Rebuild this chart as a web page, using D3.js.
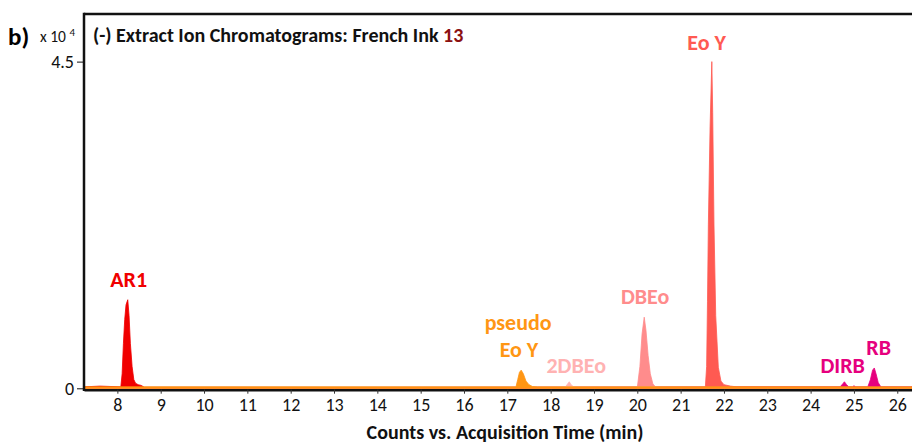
<script src="https://cdnjs.cloudflare.com/ajax/libs/d3/7.8.5/d3.min.js"></script>

<style>
  body { margin: 0; background: #fff; }
  svg text { font-family: Carlito, Lato, sans-serif; }
</style>

<body>
  <div id="vis"></div>
</body>

<script>
  // x axis ticks (min) and y ticks (x 10^4 counts)
  const xTicks = [8, 9, 10, 11, 12, 13, 14, 15, 16, 17, 18, 19, 20, 21, 22, 23, 24, 25, 26]
  const yTicks = [0, 4.5]

  // extracted ion traces (time in min, counts x 10^4)
  const ar1Time = [7.23, 7.6, 8.08, 8.11, 8.14, 8.17, 8.2, 8.24, 8.27, 8.3, 8.34, 8.38, 8.42, 8.48, 8.55, 8.62, 10.5, 26.34]
  const ar1Counts = [0.02, 0.03, 0.02, 0.2, 0.62, 0.95, 1.15, 1.22, 1.0, 0.62, 0.3, 0.12, 0.07, 0.05, 0.04, 0.015, 0.015, 0.01]

  const pseudoTime = [7.23, 17.2, 17.24, 17.28, 17.32, 17.37, 17.43, 17.5, 17.58, 17.7, 26.34]
  const pseudoCounts = [0.02, 0.02, 0.12, 0.22, 0.25, 0.2, 0.1, 0.05, 0.025, 0.02, 0.02]

  const dbeo2Time = [7.23, 18.33, 18.39, 18.43, 18.47, 18.53, 18.6, 26.34]
  const dbeo2Counts = [0.01, 0.01, 0.06, 0.09, 0.05, 0.02, 0.01, 0.01]

  const dbeoTime = [7.23, 20.0, 20.06, 20.11, 20.16, 20.2, 20.25, 20.3, 20.36, 20.42, 26.34]
  const dbeoCounts = [0.01, 0.01, 0.3, 0.75, 0.98, 0.8, 0.45, 0.2, 0.06, 0.02, 0.01]

  const eoyTime = [7.23, 21.57, 21.6, 21.62, 21.64, 21.68, 21.72, 21.74, 21.77, 21.81, 21.87, 21.93, 22.0, 22.15, 22.3, 26.34]
  const eoyCounts = [0.01, 0.01, 0.3, 1.2, 2.25, 3.6, 4.5, 3.8, 2.25, 1.0, 0.29, 0.1, 0.05, 0.03, 0.02, 0.01]

  const rbTime = [7.23, 22.4, 24.68, 24.74, 24.78, 24.83, 24.88, 24.97, 25.0, 25.04, 25.32, 25.38, 25.43, 25.47, 25.51, 25.56, 25.62, 26.34]
  const rbCounts = [0.005, 0.02, 0.02, 0.06, 0.09, 0.05, 0.02, 0.02, 0.035, 0.02, 0.02, 0.12, 0.25, 0.28, 0.2, 0.08, 0.02, 0.02]

  // peak labels anchored in data units
  const peakNames = ['AR1', 'pseudo', 'Eo Y', '2DBEo', 'DBEo', 'Eo Y', 'DIRB', 'RB']
  const peakLabelTime = [8.26, 17.25, 17.27, 18.59, 20.18, 21.6, 24.74, 25.57]
  const peakLabelCounts = [1.395, 0.8, 0.43, 0.215, 1.16, 4.66, 0.207, 0.46]
  const peakLabelColor = ['#f00000', '#ff9614', '#ff9614', '#ffb2b2', '#ff8c8c', '#ff5a52', '#e6007e', '#e6007e']

  const traces = [
    {time: rbTime, counts: rbCounts, color: '#e6007e'},
    {time: ar1Time, counts: ar1Counts, color: '#f00000'},
    {time: dbeoTime, counts: dbeoCounts, color: '#ff8c8c'},
    {time: dbeo2Time, counts: dbeo2Counts, color: '#ffb2b2'},
    {time: eoyTime, counts: eoyCounts, color: '#ff5a52'},
    {time: pseudoTime, counts: pseudoCounts, color: '#ff9614'}
  ]

  const width = 912
  const height = 444
  const plotLeft = 84, plotTop = 14, zeroY = 388.3

  let svg = d3.select('#vis').append('svg')
    .attr('width', width)
    .attr('height', height)

  let x = d3.scaleLinear().domain([7.23, 26.34]).range([plotLeft, width])
  let y = d3.scaleLinear().domain([0, 5.156]).range([zeroY, plotTop])

  let area = d3.area()
    .x(function (d) { return x(d[0]) })
    .y0(y(0))
    .y1(function (d) { return y(d[1]) })

  // the traces
  svg.selectAll('path.trace')
    .data(traces)
    .enter()
    .append('path')
    .attr('class', 'trace')
    .attr('d', function (t) { return area(d3.zip(t.time, t.counts)) })
    .attr('fill', function (t) { return t.color })
    .attr('stroke', function (t) { return t.color })
    .attr('stroke-width', 0.8)

  // axes
  let xAxis = svg.append('g')
    .attr('transform', 'translate(0,' + (zeroY + 1.4) + ')')
    .call(d3.axisBottom(x).tickValues(xTicks).tickSize(4).tickSizeOuter(0).tickPadding(5))
  xAxis.select('.domain').attr('stroke', '#111').attr('stroke-width', 2.4)
  xAxis.selectAll('.tick line').attr('stroke', '#333')
  xAxis.selectAll('text').style('font-size', '18px').attr('fill', '#111')

  let yAxis = svg.append('g')
    .attr('transform', 'translate(' + plotLeft + ',0)')
    .call(d3.axisLeft(y).tickValues(yTicks).tickSize(7).tickSizeOuter(0).tickPadding(3)
      .tickFormat(function (d) { return d === 0 ? '0' : d3.format('.1f')(d) }))
  yAxis.select('.domain').remove()
  yAxis.selectAll('.tick line').attr('stroke', '#111')
  yAxis.selectAll('text').style('font-size', '18px').attr('fill', '#111')

  // frame lines
  svg.append('line')
    .attr('x1', plotLeft).attr('x2', plotLeft)
    .attr('y1', plotTop - 1.2).attr('y2', zeroY + 2.6)
    .attr('stroke', '#111').attr('stroke-width', 2.5)
  svg.append('line')
    .attr('x1', plotLeft).attr('x2', width)
    .attr('y1', plotTop).attr('y2', plotTop)
    .attr('stroke', '#111').attr('stroke-width', 2.5)

  // peak labels
  svg.selectAll('text.peak')
    .data(peakNames)
    .enter()
    .append('text')
    .attr('class', 'peak')
    .attr('x', function (d, i) { return x(peakLabelTime[i]) })
    .attr('y', function (d, i) { return y(peakLabelCounts[i]) })
    .attr('text-anchor', 'middle')
    .attr('fill', function (d, i) { return peakLabelColor[i] })
    .style('font-size', '22px')
    .style('font-weight', 'bold')
    .text(function (d) { return d })

  // panel letter, exponent and title
  svg.append('text')
    .attr('x', 8).attr('y', 45)
    .style('font-size', '25px').style('font-weight', 'bold')
    .text('b)')

  let expo = svg.append('text')
    .attr('x', 40).attr('y', 42)
    .style('font-size', '15.5px')
    .attr('fill', '#111')
  expo.append('tspan').text('x 10 ')
  expo.append('tspan').attr('dy', -6).style('font-size', '11px').text('4')

  let title = svg.append('text')
    .attr('x', 93).attr('y', 42)
    .style('font-size', '20px').style('font-weight', 'bold')
    .attr('fill', '#111')
  title.append('tspan').text('(-) Extract Ion Chromatograms: French Ink ')
  title.append('tspan').attr('fill', '#8b1010').text('13')

  svg.append('text')
    .attr('x', 505).attr('y', 439)
    .attr('text-anchor', 'middle')
    .style('font-size', '20px').style('font-weight', 'bold')
    .attr('fill', '#111')
    .text('Counts vs. Acquisition Time (min)')
</script>
